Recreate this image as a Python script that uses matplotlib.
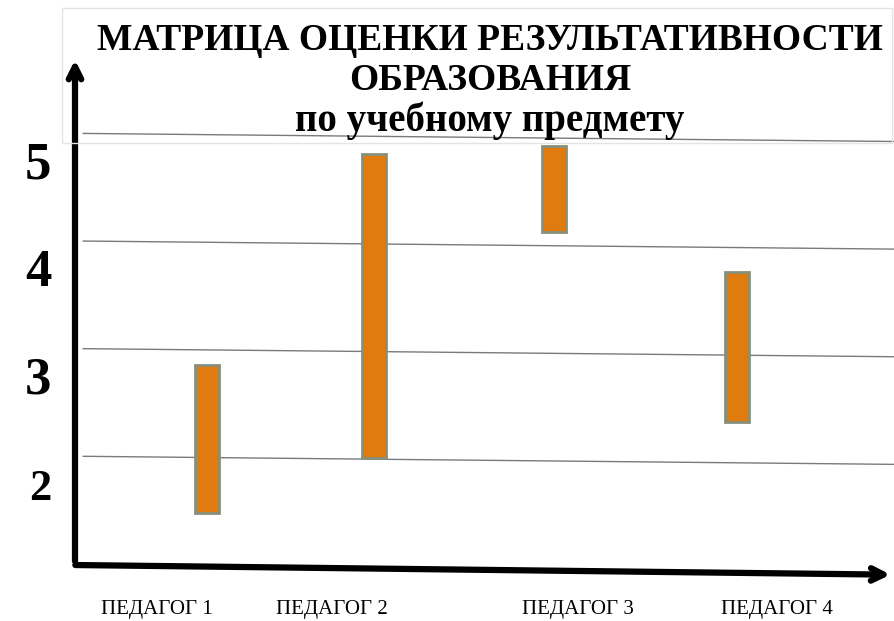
import matplotlib
matplotlib.use("Agg")
import matplotlib.pyplot as plt
from matplotlib.patches import Rectangle

# данные: диапазон оценок по каждому педагогу
teachers = ["ПЕДАГОГ 1", "ПЕДАГОГ 2", "ПЕДАГОГ 3", "ПЕДАГОГ 4"]
low = [1.47, 1.98, 4.08, 2.32]
high = [2.85, 4.81, 4.88, 3.71]
grades = [2, 3, 4, 5]
title_lines = ["МАТРИЦА ОЦЕНКИ РЕЗУЛЬТАТИВНОСТИ", "ОБРАЗОВАНИЯ", "по учебному предмету"]

# раскладка
bar_x = [1.61, 3.65, 5.85, 8.08]
label_x = [1.0, 3.14, 6.14, 8.57]
bar_w = 0.29
tilt = 0.075

plt.rcParams['font.family'] = ['Liberation Serif', 'DejaVu Serif']

fig = plt.figure(figsize=(8.94, 6.21), dpi=100)
W, H = 894, 621
ax = fig.add_axes([75 / W, (H - 565) / H, (W - 75) / W, (565 - 57) / H])
ax.set_xlim(0, 10)
ax.set_ylim(0.99, 5.71)
ax.axis('off')

# рамка заголовка
fig.patches.append(Rectangle((62 / W, (H - 143) / H), (W - 64) / W, 135 / H,
                             transform=fig.transFigure, fill=False,
                             ec='#e4e4e4', lw=1))

# линии сетки (слегка наклонные)
for g in grades:
    ax.plot([0.1, 10], [g, g - tilt], color='#7a7a7a', lw=1, zorder=1)

# столбики
for x, lo, hi in zip(bar_x, low, high):
    ax.add_patch(Rectangle((x - bar_w / 2, lo), bar_w, hi - lo,
                           fc='#e07b10', ec='#86907a', lw=2, zorder=3))

# оси со стрелками
ax.annotate('', xy=(0, 1.0), xytext=(0, 5.71), xycoords='data',
            arrowprops=dict(arrowstyle='<-,head_length=0.9,head_width=0.45',
                            lw=4.5, color='black'), annotation_clip=False)
ax.annotate('', xy=(9.99, 0.90), xytext=(-0.03, 0.99), xycoords='data',
            arrowprops=dict(arrowstyle='->,head_length=0.9,head_width=0.45',
                            lw=4.5, color='black'), annotation_clip=False)

# подписи оценок
for g in grades:
    ax.text(-0.42 if g == 2 else -0.45, g - 0.3, str(g),
            fontsize=32 if g == 2 else 38, fontweight='bold',
            ha='center', va='center', clip_on=False)

# подписи педагогов
for x, t in zip(label_x, teachers):
    ax.text(x, 0.58, t, fontsize=15, ha='center', va='center', clip_on=False)

# заголовок
fig.text(490 / W, 1 - 40 / H, title_lines[0], fontsize=27, fontweight='bold',
         ha='center', va='center')
fig.text(490 / W, 1 - 80 / H, title_lines[1], fontsize=27, fontweight='bold',
         ha='center', va='center')
fig.text(490 / W, 1 - 121 / H, title_lines[2], fontsize=28, fontweight='bold',
         ha='center', va='center')

fig.savefig('out.png', dpi=100, facecolor='white')
